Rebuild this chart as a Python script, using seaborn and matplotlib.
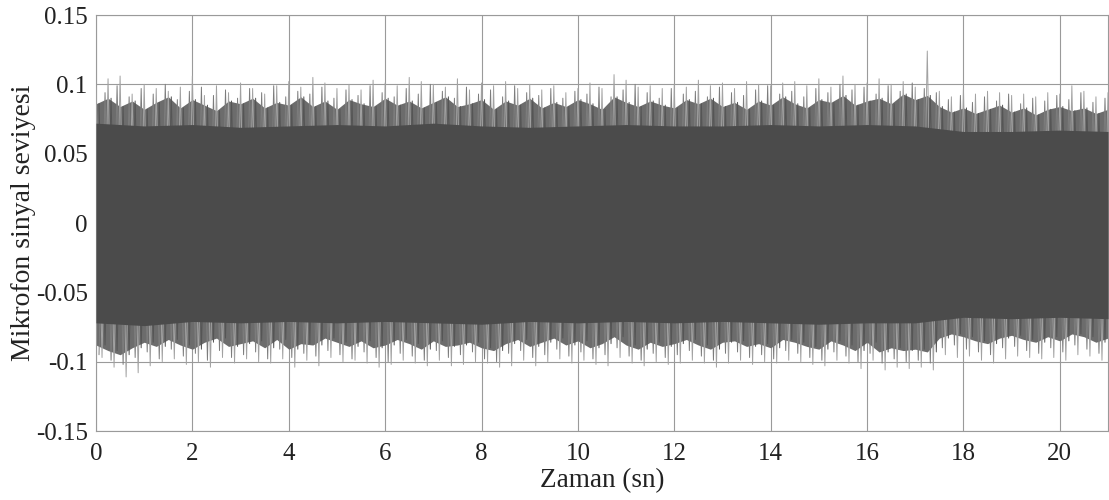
"""
Mikrofon sinyal seviyesi - zaman grafiği
"""
import matplotlib
matplotlib.use('Agg')
import matplotlib.pyplot as plt
import seaborn as sns
import numpy as np
import pandas as pd

# zarf tepe değerleri, her 0.25 sn
peak_times = np.arange(0, 21.01, 0.25)
upper_peaks = [
    0.098, 0.104, 0.106, 0.093, 0.100, 0.097, 0.095, 0.098, 0.106, 0.092,
    0.099, 0.094, 0.101, 0.097, 0.093, 0.099, 0.102, 0.098, 0.105, 0.101,
    0.097, 0.100, 0.096, 0.103, 0.101, 0.099, 0.105, 0.102, 0.100, 0.098,
    0.104, 0.096, 0.101, 0.099, 0.102, 0.097, 0.100, 0.096, 0.099, 0.094,
    0.097, 0.101, 0.097, 0.107, 0.103, 0.098, 0.099, 0.097, 0.100, 0.098,
    0.103, 0.099, 0.101, 0.097, 0.102, 0.100, 0.099, 0.101, 0.102, 0.099,
    0.104, 0.098, 0.106, 0.100, 0.101, 0.104, 0.100, 0.102, 0.098, 0.124,
    0.095, 0.091, 0.097, 0.093, 0.095, 0.094, 0.092, 0.093, 0.091, 0.094,
    0.093, 0.099, 0.095, 0.091, 0.094,
]
lower_peaks = [
    -0.097, -0.104, -0.111, -0.108, -0.103, -0.100, -0.098, -0.102, -0.100, -0.104,
    -0.097, -0.101, -0.098, -0.100, -0.101, -0.098, -0.104, -0.099, -0.103, -0.097,
    -0.100, -0.099, -0.101, -0.104, -0.102, -0.099, -0.101, -0.103, -0.099, -0.103,
    -0.102, -0.100, -0.101, -0.104, -0.103, -0.099, -0.103, -0.100, -0.098, -0.101,
    -0.099, -0.102, -0.103, -0.097, -0.101, -0.103, -0.100, -0.102, -0.101, -0.099,
    -0.101, -0.104, -0.101, -0.099, -0.102, -0.100, -0.101, -0.099, -0.100, -0.102,
    -0.103, -0.099, -0.101, -0.105, -0.099, -0.106, -0.104, -0.105, -0.104, -0.106,
    -0.095, -0.097, -0.096, -0.099, -0.101, -0.098, -0.096, -0.097, -0.098, -0.097,
    -0.099, -0.095, -0.096, -0.099, -0.097,
]

# ara tepe değerleri, her 0.25 sn
upper_mid = [
    0.094, 0.099, 0.091, 0.097, 0.093, 0.100, 0.089, 0.095, 0.098, 0.092,
    0.096, 0.090, 0.097, 0.094, 0.099, 0.091, 0.095, 0.093, 0.098, 0.090,
    0.096, 0.092, 0.099, 0.094, 0.091, 0.097, 0.093, 0.100, 0.095, 0.090,
    0.098, 0.093, 0.096, 0.091, 0.099, 0.094, 0.092, 0.097, 0.090, 0.095,
    0.093, 0.098, 0.091, 0.096, 0.100, 0.094, 0.090, 0.097, 0.093, 0.095,
    0.091, 0.098, 0.094, 0.092, 0.096, 0.099, 0.093, 0.095, 0.091, 0.097,
    0.094, 0.100, 0.096, 0.098, 0.093, 0.099, 0.095, 0.101, 0.097, 0.094,
    0.089, 0.092, 0.087, 0.091, 0.088, 0.093, 0.086, 0.090, 0.088, 0.092,
    0.089, 0.094, 0.087, 0.090, 0.088,
]
lower_mid = [
    -0.095, -0.099, -0.102, -0.097, -0.093, -0.098, -0.091, -0.096, -0.094, -0.099,
    -0.092, -0.097, -0.095, -0.093, -0.098, -0.091, -0.097, -0.094, -0.096, -0.092,
    -0.095, -0.098, -0.093, -0.097, -0.100, -0.094, -0.096, -0.099, -0.092, -0.097,
    -0.095, -0.093, -0.098, -0.100, -0.094, -0.092, -0.097, -0.095, -0.091, -0.096,
    -0.093, -0.098, -0.095, -0.090, -0.096, -0.099, -0.094, -0.097, -0.095, -0.092,
    -0.096, -0.099, -0.094, -0.093, -0.097, -0.095, -0.098, -0.092, -0.094, -0.097,
    -0.099, -0.093, -0.096, -0.100, -0.094, -0.101, -0.098, -0.100, -0.099, -0.101,
    -0.090, -0.088, -0.091, -0.093, -0.095, -0.090, -0.089, -0.092, -0.094, -0.090,
    -0.093, -0.088, -0.091, -0.094, -0.090,
]

# yoğun saçak seviyesi, her 0.25 sn
upper_fringe = [
    0.086, 0.090, 0.084, 0.088, 0.082, 0.087, 0.091, 0.083, 0.089, 0.085,
    0.081, 0.088, 0.086, 0.090, 0.083, 0.087, 0.085, 0.091, 0.084, 0.088,
    0.082, 0.089, 0.086, 0.084, 0.090, 0.085, 0.088, 0.083, 0.087, 0.091,
    0.084, 0.086, 0.089, 0.082, 0.088, 0.085, 0.090, 0.083, 0.087, 0.084,
    0.089, 0.086, 0.082, 0.091, 0.087, 0.084, 0.088, 0.085, 0.083, 0.089,
    0.086, 0.090, 0.084, 0.087, 0.082, 0.088, 0.085, 0.091, 0.086, 0.083,
    0.089, 0.087, 0.092, 0.085, 0.088, 0.090, 0.086, 0.093, 0.089, 0.092,
    0.084, 0.080, 0.083, 0.079, 0.082, 0.085, 0.080, 0.083, 0.078, 0.082,
    0.084, 0.081, 0.083, 0.079, 0.082,
]
lower_fringe = [
    -0.088, -0.092, -0.095, -0.090, -0.086, -0.089, -0.084, -0.088, -0.091, -0.086,
    -0.083, -0.089, -0.087, -0.085, -0.090, -0.084, -0.091, -0.087, -0.088, -0.083,
    -0.086, -0.089, -0.085, -0.090, -0.088, -0.084, -0.087, -0.091, -0.085, -0.089,
    -0.088, -0.086, -0.090, -0.092, -0.087, -0.084, -0.089, -0.086, -0.083, -0.088,
    -0.085, -0.090, -0.087, -0.082, -0.088, -0.091, -0.086, -0.089, -0.087, -0.084,
    -0.088, -0.091, -0.086, -0.085, -0.089, -0.087, -0.090, -0.084, -0.086, -0.089,
    -0.091, -0.085, -0.088, -0.092, -0.086, -0.093, -0.090, -0.092, -0.091, -0.093,
    -0.083, -0.080, -0.082, -0.085, -0.087, -0.083, -0.081, -0.084, -0.086, -0.082,
    -0.085, -0.080, -0.082, -0.086, -0.083,
]

# koyu çekirdek bandı, her 1 sn
core_times = np.arange(0, 22, 1)
upper_core = [0.072, 0.070, 0.071, 0.069, 0.070, 0.071, 0.070, 0.072, 0.070, 0.069, 0.070,
              0.071, 0.070, 0.070, 0.071, 0.070, 0.071, 0.070, 0.066, 0.066, 0.067, 0.066]
lower_core = [-0.072, -0.074, -0.071, -0.072, -0.071, -0.072, -0.071, -0.072, -0.073, -0.071, -0.072,
              -0.071, -0.072, -0.071, -0.072, -0.073, -0.072, -0.072, -0.068, -0.069, -0.068, -0.069]

x_ticks = [0, 2, 4, 6, 8, 10, 12, 14, 16, 18, 20]
y_ticks = [-0.15, -0.1, -0.05, 0, 0.05, 0.1, 0.15]

sns.set_style('white')
plt.rcParams['font.family'] = ['Liberation Serif', 'DejaVu Serif']
plt.rcParams['axes.unicode_minus'] = False

fig = plt.figure(figsize=(11.09, 5.0), dpi=100)
ax = fig.add_axes([96 / 1109, 69 / 500, 1012 / 1109, 416 / 500])

sig_color = '#4b4b4b'


def zigzag(upper, lower, up_off, low_off, color):
    # üst ve alt tepe noktalarını sırayla bağlayan sinyal çizgisi
    t = np.ravel(np.column_stack([peak_times + up_off, peak_times + low_off]))
    y = np.ravel(np.column_stack([upper, lower]))
    d = pd.DataFrame({'t': t, 'y': y}).sort_values('t')
    sns.lineplot(data=d, x='t', y='y', color=color, lw=0.7, estimator=None,
                 sort=False, ax=ax, zorder=3)


# saçak bölgesi (orta gri, pürüzlü kenar)
ax.fill_between(peak_times, lower_fringe, upper_fringe, color='#6c6c6c', lw=0, zorder=2)

zigzag(upper_peaks, lower_peaks, 0.0, 0.125, '#a2a2a2')
zigzag(upper_mid, lower_mid, 0.1875, 0.0625, '#7c7c7c')
zigzag(upper_fringe, lower_fringe, 0.0625, 0.1875, '#555555')

ax.fill_between(core_times, upper_core, lower_core, color=sig_color, lw=0, zorder=4)

ax.set_xlim(0, 21)
ax.set_ylim(-0.15, 0.15)
ax.set_xticks(x_ticks)
ax.set_yticks(y_ticks)
ax.set_yticklabels(['%g' % v for v in y_ticks])
ax.grid(True, color='#9a9a9a', lw=0.8, zorder=1)
ax.set_axisbelow(True)
ax.tick_params(length=0, labelsize=18, colors='#222222')
ax.tick_params(axis='x', pad=9)
ax.tick_params(axis='y', pad=6)
for s in ax.spines.values():
    s.set_color('#9a9a9a')
    s.set_linewidth(0.8)

ax.set_xlabel('Zaman (sn)', fontsize=19.5, labelpad=2, color='#222222')
ax.set_ylabel('Mikrofon sinyal seviyesi', fontsize=20, color='#222222')
ax.yaxis.set_label_coords(-0.059, 0.5)

fig.savefig('out.png', dpi=100)
